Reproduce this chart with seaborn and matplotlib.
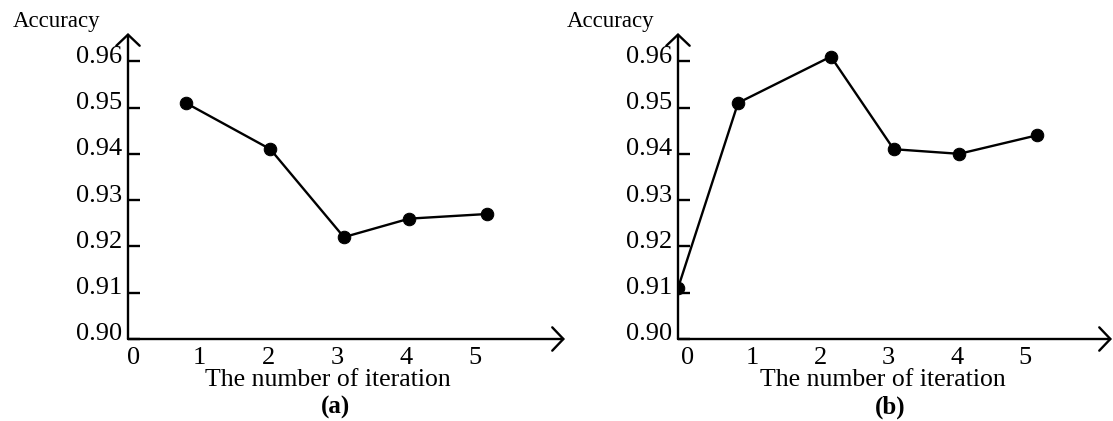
import matplotlib
matplotlib.use("Agg")
import matplotlib.pyplot as plt
import seaborn as sns
import pandas as pd
from matplotlib.transforms import ScaledTranslation

# ---- data ----
iter_a = [0.84, 2.07, 3.14, 4.09, 5.22]
acc_a = [0.951, 0.941, 0.922, 0.926, 0.927]
iter_b = [0.0, 0.88, 2.24, 3.16, 4.12, 5.26]
acc_b = [0.911, 0.951, 0.961, 0.941, 0.940, 0.944]
x_ticks = [0, 1, 2, 3, 4, 5]
x_tick_labels = ["0", "1", "2", "3", "4", "5"]
y_ticks = [0.90, 0.91, 0.92, 0.93, 0.94, 0.95, 0.96]
y_tick_labels = ["0.90", "0.91", "0.92", "0.93", "0.94", "0.95", "0.96"]
panel_labels = ["(a)", "(b)"]
x_title = "The number of iteration"
y_title = "Accuracy"

sns.set_theme(style="white")
plt.rcParams["font.family"] = ["Liberation Serif", "DejaVu Serif"]

W, H = 1113, 421
fig = plt.figure(figsize=(W / 100, H / 100), dpi=100)

panels = [
    dict(x=iter_a, y=acc_a, left=128, width=437, xmax=6.356, dx=3, dx0=6,
         xlab=328, ylab=57, plab=336),
    dict(x=iter_b, y=acc_b, left=678, width=434, xmax=6.359, dx=6, dx0=10,
         xlab=883, ylab=611, plab=890),
]

for p, plab_text in zip(panels, panel_labels):
    ax = fig.add_axes([p["left"] / W, 82 / H, p["width"] / W, 306 / H])
    df = pd.DataFrame({"it": p["x"], "acc": p["y"]})
    sns.lineplot(data=df, x="it", y="acc", ax=ax, color="black", lw=1.7,
                 marker="o", markersize=9, markeredgecolor="black",
                 markerfacecolor="black", sort=False)
    ax.set_xlim(0, p["xmax"])
    ax.set_ylim(0.90, 0.9661)
    for s in ax.spines.values():
        s.set_visible(False)
    ax.grid(False)
    ax.set_facecolor("none")

    # axes with arrow heads
    arrow = dict(arrowstyle="->,head_length=0.4,head_width=0.42", lw=1.7,
                 color="black", mutation_scale=20, shrinkA=0, shrinkB=0)
    ax.annotate("", xy=(1, 0), xytext=(0, 0), xycoords="axes fraction",
                arrowprops=arrow, annotation_clip=False)
    ax.annotate("", xy=(0, 1), xytext=(0, 0), xycoords="axes fraction",
                arrowprops=arrow, annotation_clip=False)

    ax.set_yticks(y_ticks)
    ax.set_yticklabels(y_tick_labels)
    ax.set_xticks(x_ticks)
    ax.set_xticklabels(x_tick_labels)
    ax.tick_params(axis="y", direction="in", length=8.6, width=1.7,
                   color="black", pad=4, labelsize=19, labelcolor="black",
                   left=True)
    ax.tick_params(axis="x", length=0, pad=6, labelsize=19,
                   labelcolor="black", bottom=True)
    for lab in ax.get_yticklabels():
        lab.set_transform(lab.get_transform() +
                          ScaledTranslation(0, 7 / 100, fig.dpi_scale_trans))
    for i, lab in enumerate(ax.get_xticklabels()):
        d = p["dx0"] if i == 0 else p["dx"]
        lab.set_transform(lab.get_transform() +
                          ScaledTranslation(d / 100, 0, fig.dpi_scale_trans))

    ax.set_xlabel(x_title, fontsize=18.5, color="black", va="center")
    ax.xaxis.set_label_coords((p["xlab"] - p["left"]) / p["width"],
                              (339 - 380) / 306)
    ax.set_ylabel(y_title, fontsize=16.5, color="black", rotation=0,
                  va="center", ha="center")
    ax.yaxis.set_label_coords((p["ylab"] - p["left"]) / p["width"],
                              (339 - 22) / 306)

    fig.text(p["plab"] / W, 1 - 407 / H, plab_text, fontsize=18,
             fontweight="bold", ha="center", va="center", color="black")

fig.savefig("out.png", dpi=100, facecolor="white")
